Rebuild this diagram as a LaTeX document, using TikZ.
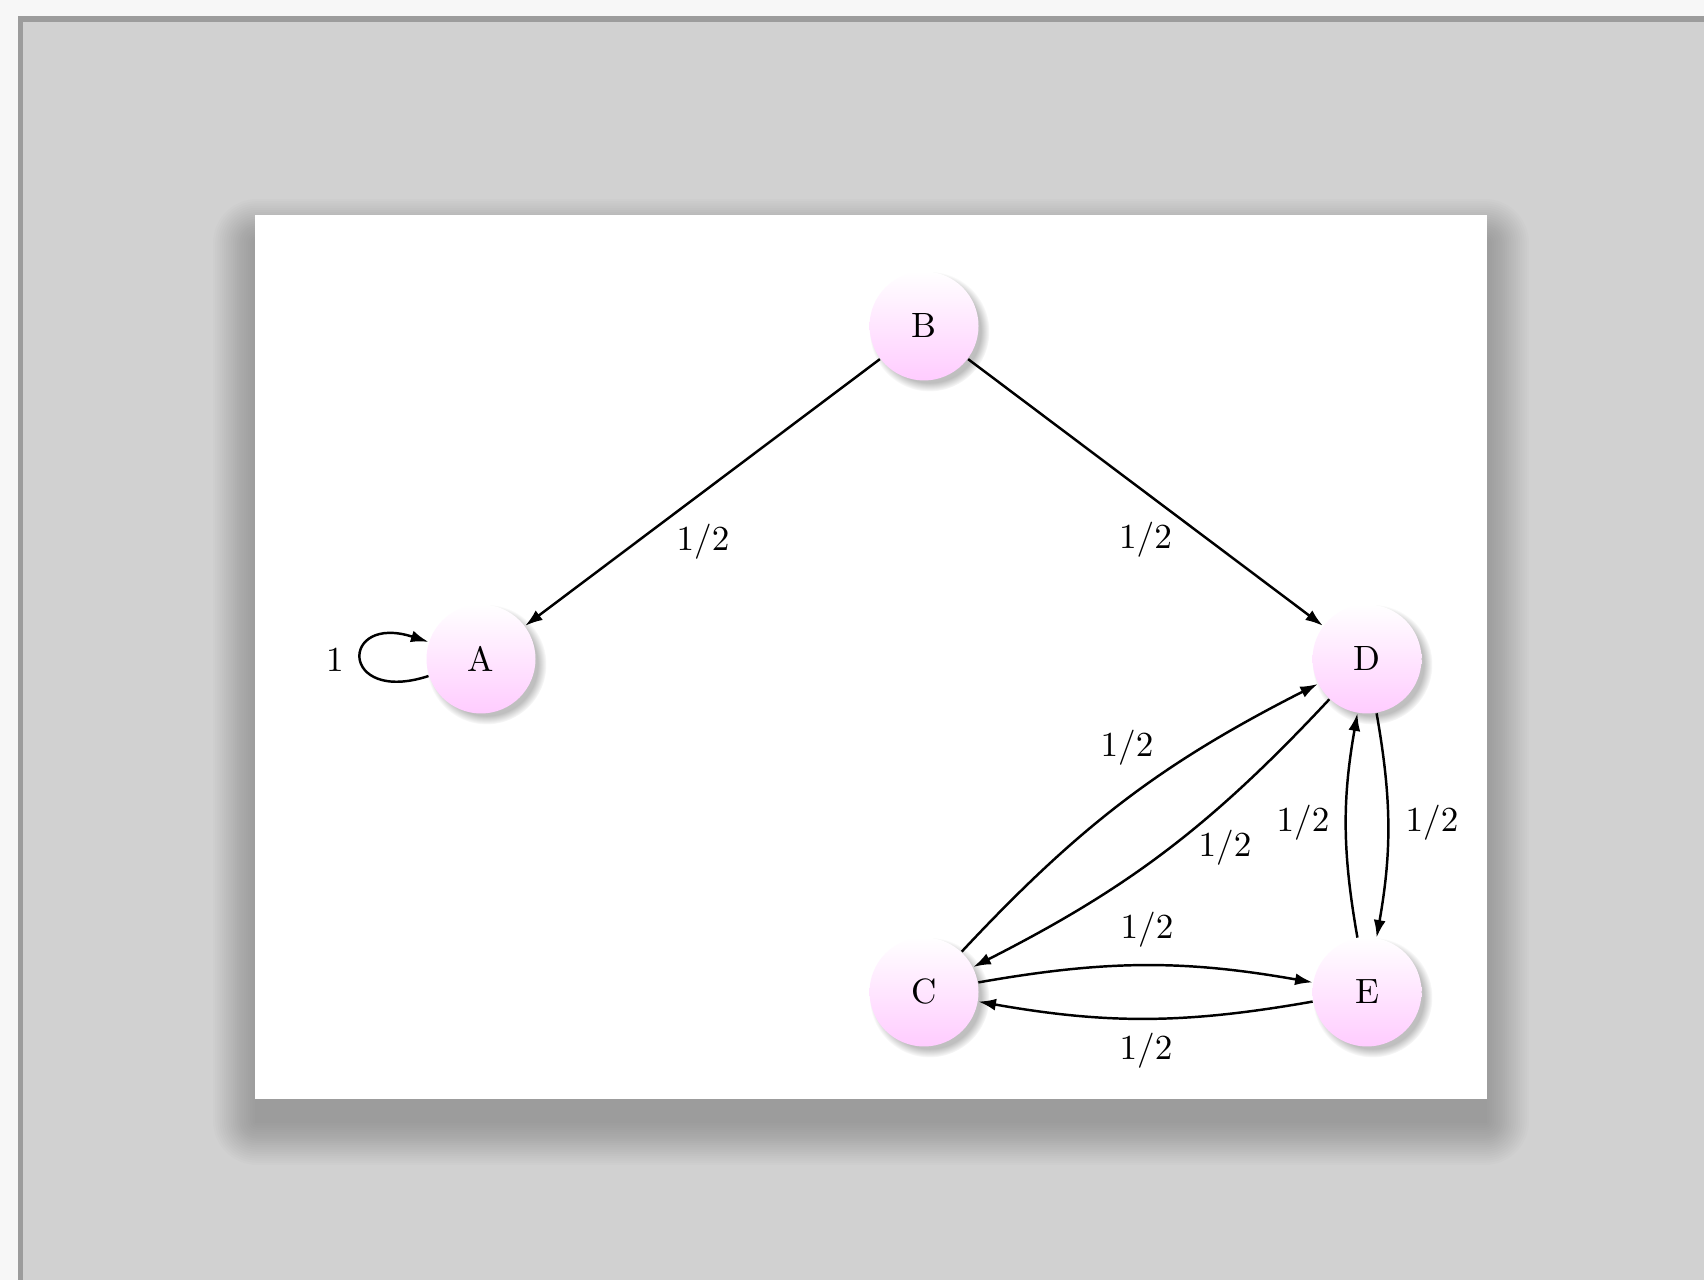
\documentclass[tikz,border=0pt]{standalone}
\usetikzlibrary{shadows,arrows.meta}
\definecolor{viewerbg}{HTML}{D1D1D1}
\definecolor{viewerframe}{HTML}{9C9C9C}
\definecolor{viewerstrip}{HTML}{F7F7F7}
\begin{document}
\begin{tikzpicture}[
  state/.style={circle, minimum size=1.09cm, inner sep=0pt,
    top color=white, bottom color=magenta!20,
    circular drop shadow={shadow xshift=0.05cm, shadow yshift=-0.05cm, opacity=0.5}},
  link/.style={-{Latex[length=5pt,width=3.4pt]}, line width=0.7pt},
  lbl/.style={inner sep=0pt}
]
\useasboundingbox (0,0) rectangle (17.04,12.80);
% viewer background
\fill[viewerstrip] (0,0) rectangle (17.04,12.80);
\fill[viewerframe] (0.18,0) rectangle (17.04,12.64);
\fill[viewerbg] (0.23,0) rectangle (17.04,12.58);
% page shadow
\foreach \i [evaluate=\i as \d using \i*0.022] in {1,...,20}{
  \fill[black, opacity=0.012, rounded corners=\d cm]
    (2.55-\d+0.02, 1.81-0.22-\d) rectangle (14.87+\d-0.02, 10.65-0.28+\d);
}
\fill[white] (2.55,1.81) rectangle (14.87,10.65);

% states
\node[state] (A) at (4.81,6.21) {A};
\node[state] (B) at (9.24,9.54) {B};
\node[state] (C) at (9.24,2.88) {C};
\node[state] (D) at (13.67,6.21) {D};
\node[state] (E) at (13.67,2.88) {E};

% transitions
\draw[link] (B) -- (A);
\draw[link] (B) -- (D);
\draw[link] (A) to[out=198,in=162,distance=9.4mm] (A);
\draw[link] (C) to[bend left=10] (D);
\draw[link] (D) to[bend left=10] (C);
\draw[link] (C) to[bend left=10] (E);
\draw[link] (E) to[bend left=10] (C);
\draw[link] (D) to[bend left=10] (E);
\draw[link] (E) to[bend left=10] (D);

% labels
\node[lbl] (lBA) at (7.03,7.38) {$1/2$};
\node[lbl] (lBD) at (11.455,7.40) {$1/2$};
\node[lbl] (lAA) at (3.35,6.20) {$1$};
\node[lbl] (lCD) at (11.27,5.32) {$1/2$};
\node[lbl] (lDC) at (12.25,4.32) {$1/2$};
\node[lbl] (lED) at (13.03,4.57) {$1/2$};
\node[lbl] (lDE) at (14.32,4.57) {$1/2$};
\node[lbl] (lCE) at (11.47,3.50) {$1/2$};
\node[lbl] (lEC) at (11.46,2.29) {$1/2$};
\end{tikzpicture}
\end{document}
